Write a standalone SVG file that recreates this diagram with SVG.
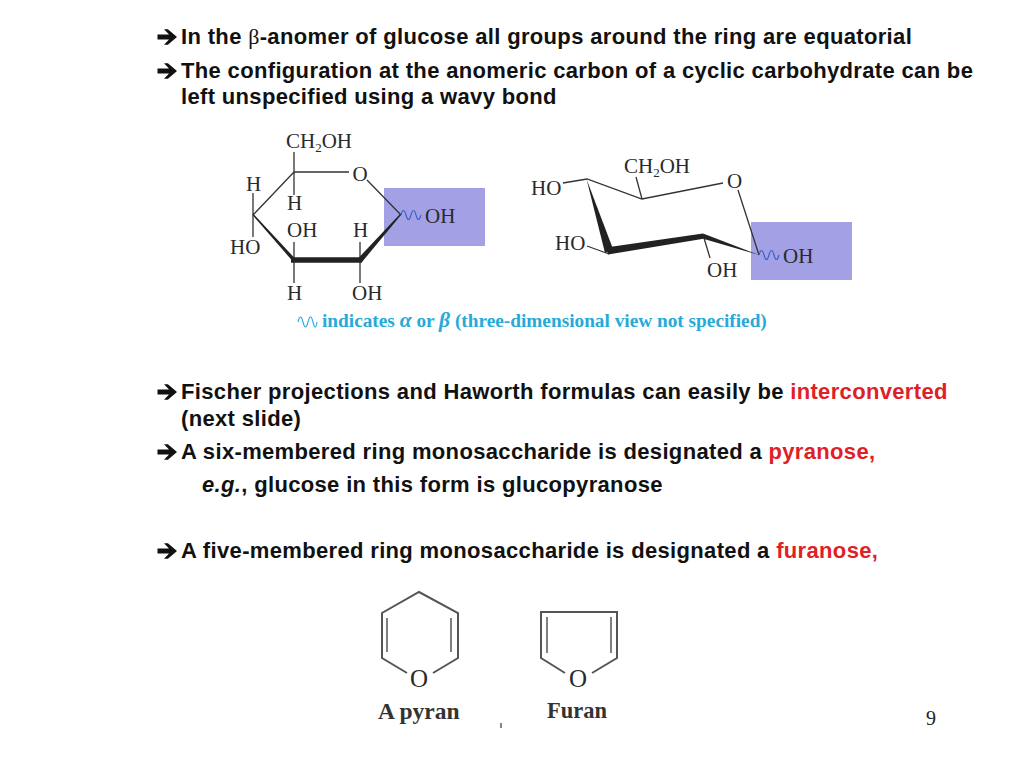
<svg xmlns="http://www.w3.org/2000/svg" width="1024" height="768" viewBox="0 0 1024 768">
<style>
.t{font-family:"Liberation Sans",Arial,sans-serif;font-weight:bold;font-size:22px;letter-spacing:.34px;fill:#111}
.r{fill:#e02027}
.c{font-family:"Liberation Serif","Times New Roman",serif;font-size:21px;fill:#2a2a2a}
.o{font-family:"Liberation Serif","Times New Roman",serif;font-size:25px;fill:#2a2a2a;text-anchor:middle}
.b{stroke:#333;stroke-width:1.3;fill:none}
.g{stroke:#555;stroke-width:2;fill:none}
.w{stroke:#3b62c4;stroke-width:1.2;fill:none}
.h{font-family:"Liberation Serif","Times New Roman",serif;font-weight:bold;fill:#333}
.k{font-family:"Liberation Serif","Times New Roman",serif;font-weight:bold;font-size:19.3px;fill:#26aad8}
.g2{font-style:italic;font-size:21.5px}
</style>
<defs>
<path id="ar" d="M0-2.6H11.5L6.5-7.8H10.4L19.5 0 10.4 7.8H6.5L11.5 2.6H0Z" fill="#111"/>
</defs>
<rect width="1024" height="768" fill="#fff"/>
<g id="bullets">
<use href="#ar" x="157.5" y="37"/>
<use href="#ar" x="157.5" y="71"/>
<use href="#ar" x="157.5" y="392"/>
<use href="#ar" x="157.5" y="452"/>
<use href="#ar" x="157.5" y="551"/>
<text class="t" x="181" y="44">In the <tspan font-family="'Liberation Serif',serif" font-weight="normal">β</tspan>-anomer of glucose all groups around the ring are equatorial</text>
<text class="t" x="181" y="78">The configuration at the anomeric carbon of a cyclic carbohydrate can be</text>
<text class="t" x="181" y="104">left unspecified using a wavy bond</text>
<text class="t" x="181" y="399">Fischer projections and Haworth formulas can easily be <tspan class="r">interconverted</tspan></text>
<text class="t" x="181" y="426">(next slide)</text>
<text class="t" x="181" y="459">A six-membered ring monosaccharide is designated a <tspan class="r">pyranose,</tspan></text>
<text class="t" x="202" y="492"><tspan font-style="italic">e.g.</tspan>, glucose in this form is glucopyranose</text>
<text class="t" x="181" y="558">A five-membered ring monosaccharide is designated a <tspan class="r">furanose,</tspan></text>
</g>
<g id="haworth">
<rect x="384" y="188" width="101" height="58" fill="#a3a0e6"/>
<g class="b">
<path d="M294 152V172H349M367 180L401 215M294 172L253 215M294 172V195M253 193V237M294 262V283M360 262V283M360 260V242M294 260V242"/>
</g>
<path d="M252.500 215L253.500 214L295 258.500L292.500 261Z" fill="#222"/>
<path d="M401 215L362 262L358 258.500L400 214Z" fill="#222"/>
<path d="M291 260H362" stroke="#222" stroke-width="5.500" fill="none"/>
<path class="w" d="M401 215q2.500-9 5 0t5 0t5 0t5 0"/>
<text class="c" x="286" y="148">CH<tspan font-size="13" dy="4">2</tspan><tspan dy="-4">OH</tspan></text>
<text class="c" x="352.500" y="181">O</text>
<text class="c" x="425" y="223">OH</text>
<text class="c" x="246" y="191">H</text>
<text class="c" x="287" y="210">H</text>
<text class="c" x="287" y="237">OH</text>
<text class="c" x="353" y="237">H</text>
<text class="c" x="230" y="254">HO</text>
<text class="c" x="287" y="300">H</text>
<text class="c" x="352" y="300">OH</text>
</g>
<g id="chair">
<rect x="751" y="222" width="101" height="58" fill="#a3a0e6"/>
<g class="b">
<path d="M563 183L587 179L642 199L723 183M642 199L636 177M738 190L759 255M587 246L609 254M704 238L710 258"/>
</g>
<path d="M586.500 179L605 253L613 249Z" fill="#222"/>
<path d="M606 247.500L703 233.500L705 238.500L608 254.500Z" fill="#222"/>
<path d="M703 233.500L759 255L704 239Z" fill="#222"/>
<path class="w" d="M759 255q2.500-9 5 0t5 0t5 0t5 0"/>
<text class="c" x="624" y="173">CH<tspan font-size="13" dy="4">2</tspan><tspan dy="-4">OH</tspan></text>
<text class="c" x="727" y="188">O</text>
<text class="c" x="783" y="263">OH</text>
<text class="c" x="531" y="195">HO</text>
<text class="c" x="555" y="250">HO</text>
<text class="c" x="707" y="277">OH</text>
</g>
<g id="legend">
<path d="M298 322q2.500-10 5 0t5 0t5 0t4 0" stroke="#26aad8" stroke-width="1.100" fill="none"/>
<text class="k" x="322" y="327">indicates <tspan class="g2">α</tspan> or <tspan class="g2">β</tspan> (three-dimensional view not specified)</text>
</g>
<g id="pyran">
<path class="g" d="M407 673L382 658V613L419 592L458 613V658L433 673"/>
<path d="M387 618V652M451 618V652" stroke="#555" stroke-width="1.500" fill="none"/>
<text class="o" x="419" y="687">O</text>
<text class="h" x="378" y="719" font-size="23.500">A pyran</text>
</g>
<g id="furan">
<path class="g" d="M565 673L541 658V612H617V658L592 673"/>
<path d="M547 617V653M611 617V653" stroke="#555" stroke-width="1.500" fill="none"/>
<text class="o" x="578" y="687">O</text>
<text class="h" x="547" y="718" font-size="22.500">Furan</text>
</g>
<g id="page">
<text x="926" y="725" font-family="'Liberation Serif',serif" font-size="20" fill="#222">9</text>
<path d="M501 728V723" stroke="#333" stroke-width="1.200"/>
</g>
</svg>
